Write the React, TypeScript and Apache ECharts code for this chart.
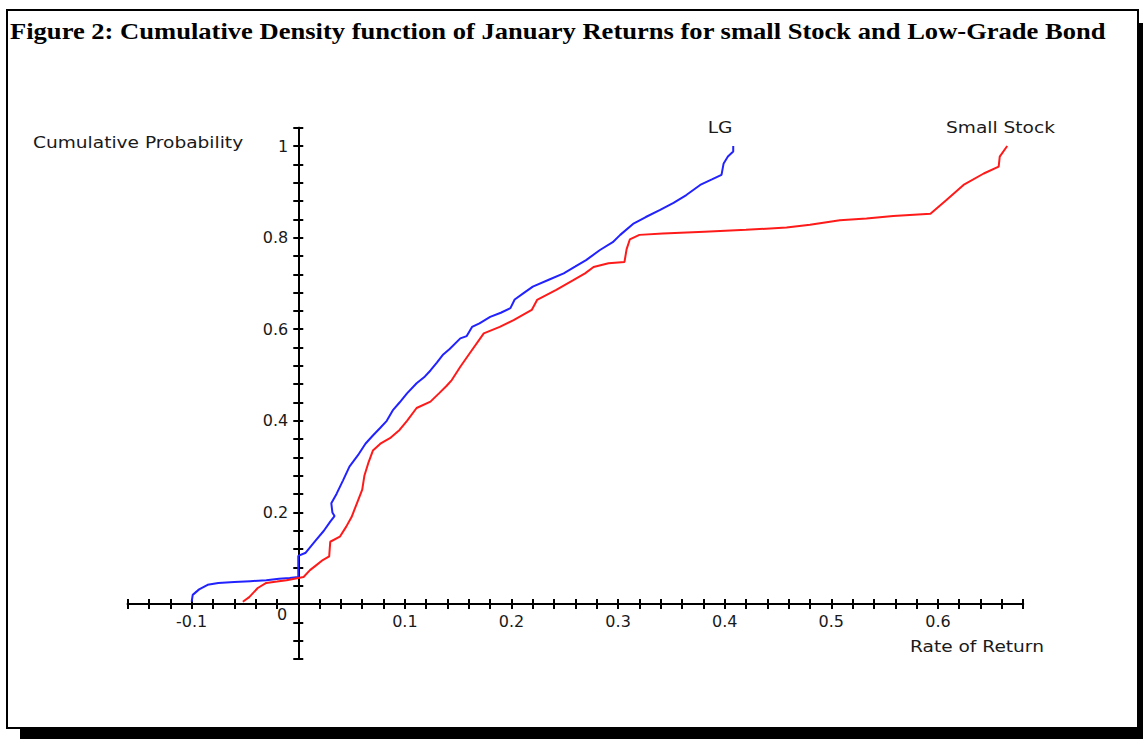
import React, { useEffect, useRef } from "react";
import * as echarts from "echarts";

const titleText =
  "Figure 2: Cumulative Density function of January Returns for small Stock and Low-Grade Bond";
const xAxisTitle = "Rate of Return";
const yAxisTitle = "Cumulative Probability";
const originLabel = "0";

const xTickLabels = ["-0.1", "0.1", "0.2", "0.3", "0.4", "0.5", "0.6"];
const yTickLabels = ["0.2", "0.4", "0.6", "0.8", "1"];

const lgName = "LG";
const lgX = [
  -0.1, -0.099, -0.093, -0.085, -0.075, -0.06, -0.045, -0.03, -0.018, -0.008, 0.0, 0.0,
  0.007, 0.016, 0.024, 0.03, 0.034, 0.032, 0.031, 0.036, 0.042, 0.048, 0.056, 0.063,
  0.07, 0.077, 0.083, 0.089, 0.095, 0.102, 0.111, 0.118, 0.124, 0.13, 0.136, 0.142,
  0.152, 0.158, 0.163, 0.17, 0.18, 0.19, 0.199, 0.203, 0.212, 0.22, 0.235, 0.249, 0.26,
  0.27, 0.283, 0.295, 0.302, 0.314, 0.326, 0.339, 0.352, 0.364, 0.377, 0.388, 0.397,
  0.399, 0.403, 0.408, 0.408,
];
const lgY = [
  0.005, 0.02, 0.032, 0.042, 0.046, 0.048, 0.05, 0.052, 0.055, 0.057, 0.059, 0.105,
  0.112, 0.138, 0.16, 0.18, 0.192, 0.2, 0.22, 0.241, 0.27, 0.3, 0.325, 0.35, 0.368,
  0.385, 0.4, 0.424, 0.44, 0.46, 0.482, 0.495, 0.51, 0.527, 0.545, 0.557, 0.58, 0.585,
  0.605, 0.613, 0.627, 0.636, 0.646, 0.665, 0.68, 0.693, 0.708, 0.722, 0.737, 0.751,
  0.773, 0.79, 0.806, 0.83, 0.845, 0.86, 0.876, 0.893, 0.915, 0.927, 0.937, 0.962,
  0.977, 0.988, 1.0,
];

const ssName = "Small Stock";
const ssX = [
  -0.052, -0.046, -0.038, -0.03, -0.02, -0.011, 0.0, 0.005, 0.011, 0.017, 0.023, 0.029,
  0.03, 0.039, 0.045, 0.05, 0.055, 0.06, 0.062, 0.066, 0.07, 0.077, 0.086, 0.095, 0.102,
  0.111, 0.124, 0.132, 0.139, 0.144, 0.152, 0.161, 0.174, 0.189, 0.202, 0.219, 0.224,
  0.242, 0.258, 0.269, 0.277, 0.291, 0.306, 0.308, 0.311, 0.32, 0.342, 0.381, 0.42,
  0.458, 0.48, 0.508, 0.533, 0.558, 0.593, 0.608, 0.624, 0.643, 0.657, 0.658, 0.665,
];
const ssY = [
  0.005, 0.015, 0.035, 0.046, 0.049, 0.052, 0.057, 0.059, 0.074, 0.085, 0.096, 0.104,
  0.136, 0.147, 0.169, 0.19, 0.22, 0.25, 0.28, 0.31, 0.335, 0.35, 0.362, 0.38, 0.4,
  0.428, 0.442, 0.46, 0.476, 0.489, 0.518, 0.548, 0.591, 0.605, 0.62, 0.642, 0.664,
  0.686, 0.707, 0.722, 0.736, 0.744, 0.747, 0.775, 0.796, 0.806, 0.809, 0.813, 0.817,
  0.822, 0.828, 0.838, 0.842, 0.847, 0.852, 0.882, 0.915, 0.94, 0.955, 0.977, 1.0,
];

const pick = (labels: string[]) => (v: number) => {
  const hit = labels.find((l) => Math.abs(Number(l) - v) < 1e-6);
  return hit ?? "";
};

const labelFont = "DejaVu Sans";
const axisColor = "#000";
const textColor = "#1a1a1a";
const stretch = 1.24;

export default function App() {
  const ref = useRef<HTMLDivElement>(null);

  useEffect(() => {
    if (!ref.current) return;
    const chart = echarts.init(ref.current, undefined, { renderer: "svg" });

    const xBase = {
      type: "value",
      min: -0.16,
      max: 0.68,
      interval: 0.02,
      splitLine: { show: false },
      axisLine: { onZero: true, lineStyle: { color: axisColor, width: 2 } },
      axisTick: { show: true, length: 5, lineStyle: { color: axisColor, width: 2 } },
    };
    const yBase = {
      type: "value",
      min: -0.12,
      max: 1.04,
      interval: 0.04,
      splitLine: { show: false },
      axisLine: { onZero: true, lineStyle: { color: axisColor, width: 2 } },
      axisTick: { show: true, length: 5, lineStyle: { color: axisColor, width: 2 } },
    };

    const lblStyle = {
      fontFamily: labelFont,
      fontSize: 16,
      color: textColor,
    };

    const sideText = (
      text: string,
      x: number,
      y: number,
      align: string,
      scaleX: number,
      font: string
    ) => ({
      type: "text",
      x,
      y,
      scaleX,
      style: { text, font, fill: textColor, align, verticalAlign: "middle" },
    });

    const smallFont = `15px '${labelFont}'`;

    chart.setOption({
      animation: false,
      backgroundColor: "transparent",
      grid: { left: 127.7, right: 119.8, top: 127.7, bottom: 80, containLabel: false },
      xAxis: [
        {
          ...xBase,
          position: "bottom",
          axisLabel: { ...lblStyle, margin: -46, formatter: pick(xTickLabels) },
        },
        { ...xBase, position: "top", axisLabel: { show: false } },
      ],
      yAxis: [
        {
          ...yBase,
          position: "left",
          axisLabel: { ...lblStyle, margin: -160.6, formatter: pick(yTickLabels) },
        },
        { ...yBase, position: "right", axisLabel: { show: false } },
      ],
      series: [
        {
          name: lgName,
          type: "line",
          xAxisIndex: 0,
          yAxisIndex: 0,
          data: lgX.map((x, i) => [x, lgY[i]]),
          showSymbol: false,
          symbol: "none",
          lineStyle: { color: "#2222ff", width: 2 },
          itemStyle: { color: "#2222ff" },
        },
        {
          name: ssName,
          type: "line",
          xAxisIndex: 0,
          yAxisIndex: 0,
          data: ssX.map((x, i) => [x, ssY[i]]),
          showSymbol: false,
          symbol: "none",
          lineStyle: { color: "#ff1a1a", width: 2 },
          itemStyle: { color: "#ff1a1a" },
        },
      ],
      graphic: [
        {
          type: "text",
          x: 10,
          y: 31,
          scaleX: 1.155,
          style: {
            text: titleText,
            font: "bold 23px 'Liberation Serif'",
            fill: "#000",
            align: "left",
            verticalAlign: "middle",
          },
        },
        sideText(yAxisTitle, 33, 143, "left", stretch, smallFont),
        sideText(xAxisTitle, 910, 647, "left", stretch, smallFont),
        sideText(lgName, 720, 128, "center", stretch, smallFont),
        sideText(ssName, 946, 128, "left", stretch, smallFont),
        {
          type: "text",
          x: 282,
          y: 614,
          style: {
            text: originLabel,
            font: `16px '${labelFont}'`,
            fill: textColor,
            align: "center",
            verticalAlign: "middle",
          },
        },
      ],
    });

    return () => chart.dispose();
  }, []);

  return (
    <div
      style={{
        position: "fixed",
        left: 0,
        top: 0,
        width: 1143,
        height: 739,
        background: "#fff",
        overflow: "hidden",
      }}
    >
      <div
        style={{
          position: "absolute",
          left: 6,
          top: 9,
          width: 1129,
          height: 716,
          border: "2px solid #000",
          boxShadow: "14px 14px 0 #000",
          background: "#fff",
        }}
      />
      <div
        ref={ref}
        style={{ position: "absolute", left: 0, top: 0, width: 1143, height: 739 }}
      />
    </div>
  );
}
